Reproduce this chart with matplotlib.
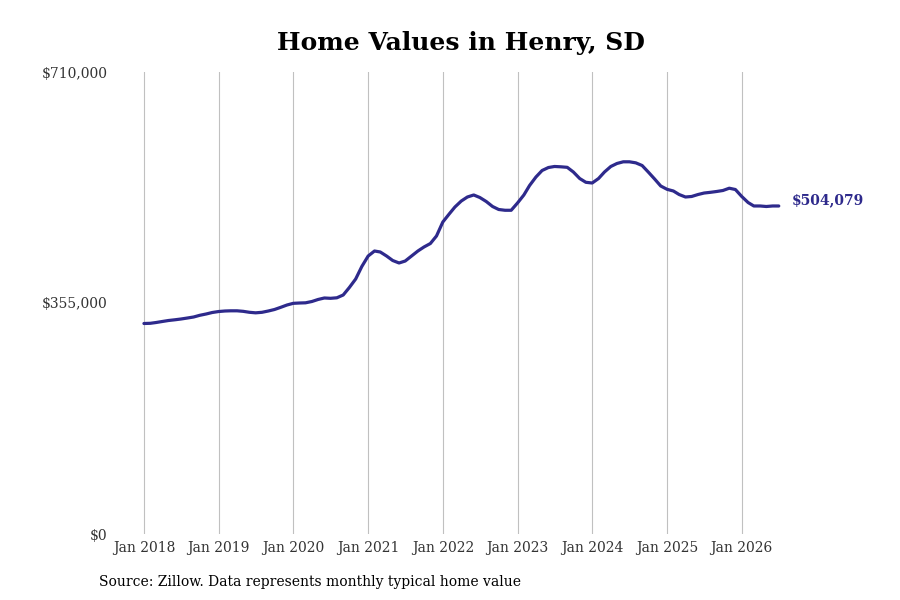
import matplotlib
matplotlib.use("Agg")
import matplotlib.pyplot as plt
import matplotlib.dates as mdates
import pandas as pd
from matplotlib.ticker import FuncFormatter

plt.rcParams['font.family'] = ['DejaVu Serif']

start_month = "2018-01-01"
values = [
    # 2018
    323500, 323800, 325000, 326600, 328100, 329200, 330400, 331900, 333500, 336100, 338100, 340400,
    # 2019
    341900, 342700, 343000, 343000, 342200, 340700, 339900, 340700, 342700, 345000, 348400, 351900,
    # 2020
    354500, 355000, 355300, 357300, 360400, 362700, 362200, 363000, 367300, 378800, 391900, 411100,
    # 2021
    427200, 434900, 433400, 427200, 420300, 416500, 419500, 427200, 434900, 441100, 446400, 458000,
    # 2022
    479500, 491800, 502500, 511700, 517900, 521000, 517100, 511000, 503300, 498700, 497500, 497500,
    # 2023
    508700, 521000, 535600, 548600, 558600, 563200, 564800, 564300, 563500, 556300, 546300, 540500,
    # 2024
    539400, 546300, 556300, 564800, 569400, 572000, 572000, 570400, 566300, 556300, 545600, 534800,
    # 2025
    529700, 527100, 521700, 517900, 518700, 521700, 524000, 525100, 526400, 527900, 531400, 529400,
    # 2026
    518700, 509400, 504100, 504100, 503300, 504100, 504079,
]
year_ticks = list(range(2018, 2027))
y_ticks = [0, 355000, 710000]
title = "Home Values in Henry, SD"
source = "Source: Zillow. Data represents monthly typical home value"

dates = pd.date_range(start_month, periods=len(values), freq="MS")
line_color = "#2e2a8c"

fig = plt.figure(figsize=(9, 6), dpi=100)
ax = fig.add_axes([120/900, 66/600, 740/900, 462/600])

ax.plot(dates, values, color=line_color, lw=2.3, solid_capstyle="round", zorder=3)

ax.set_ylim(0, 710000)
ax.set_xlim(pd.Timestamp("2017-09-06"), pd.Timestamp("2027-08-02"))

ax.set_yticks(y_ticks)
ax.yaxis.set_major_formatter(FuncFormatter(lambda v, p: f"${v:,.0f}"))
xt = [pd.Timestamp(f"{y}-01-01") for y in year_ticks]
ax.set_xticks(xt)
ax.set_xticklabels([f"Jan {y}" for y in year_ticks])

ax.tick_params(axis="both", length=0, labelsize=10, labelcolor="#333333")
ax.tick_params(axis="y", pad=9)
ax.tick_params(axis="x", pad=5)
ax.grid(axis="x", color="#c0c0c0", lw=0.8)
ax.grid(axis="y", visible=False)
for s in ax.spines.values():
    s.set_visible(False)

ax.annotate(f"${values[-1]:,}", xy=(dates[-1], values[-1]), xytext=(13, 6),
            textcoords="offset pixels", va="center", ha="left",
            fontsize=10, fontweight="bold", color=line_color, annotation_clip=False)

fig.text(461/900, 1 - 43/600, title, ha="center", va="center", fontsize=18, fontweight="bold", color="black")
fig.text(99/900, 1 - 582/600, source, ha="left", va="center", fontsize=10, color="black")

fig.savefig("out.png", dpi=100)
